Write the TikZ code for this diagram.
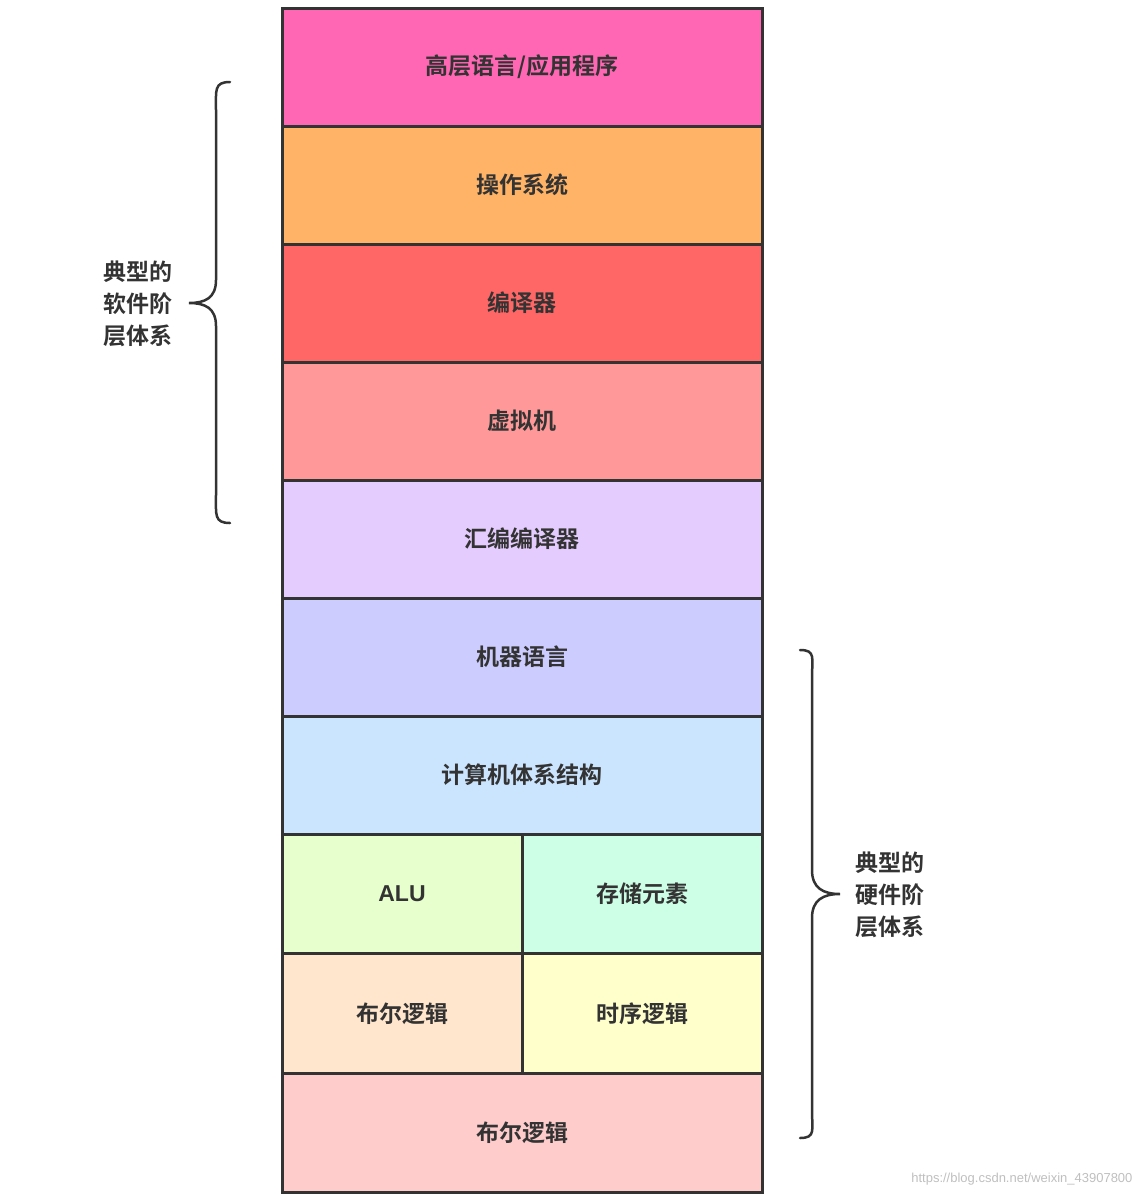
\documentclass[tikz,border=0pt]{standalone}
\usepackage{fontspec}
\newfontfamily\cjk{Noto Sans CJK SC Bold}
\newfontfamily\sans{Liberation Sans}
\begin{document}
\begin{tikzpicture}[x=1pt,y=-1pt,
  blk/.style={draw=black!80,line width=3pt},
  lbl/.style={font=\cjk\fontsize{23}{26}\selectfont,text=black!80},
  side/.style={font=\cjk\fontsize{23}{32}\selectfont,text=black!80,align=left},
  brc/.style={draw=black!80,line width=2.5pt,line cap=round}]
\useasboundingbox (0,0) rectangle (1143,1197);
\definecolor{c1}{HTML}{FF66B3}\definecolor{c2}{HTML}{FFB366}
\definecolor{c3}{HTML}{FF6666}\definecolor{c4}{HTML}{FF9999}
\definecolor{c5}{HTML}{E5CCFF}\definecolor{c6}{HTML}{CCCCFF}
\definecolor{c7}{HTML}{CCE5FF}\definecolor{c8}{HTML}{E6FFCC}
\definecolor{c9}{HTML}{CCFFE6}\definecolor{c10}{HTML}{FFE6CC}
\definecolor{c11}{HTML}{FFFFCC}\definecolor{c12}{HTML}{FFCCCC}
\foreach \ya/\yb/\c/\t [count=\i] in {8/126/c1/高层语言\slash 应用程序,126/244/c2/操作系统,244/362/c3/编译器,362/480/c4/虚拟机,480/598/c5/汇编编译器,598/716/c6/机器语言,716/834/c7/计算机体系结构,1073/1192/c12/布尔逻辑}{
  \filldraw[blk,fill=\c] (282,\ya) rectangle (762,\yb);
  \node[lbl] (r\i) at (522,{(\ya+\yb)/2}) {\t};
}
\filldraw[blk,fill=c8] (282,834) rectangle (522,953);
\node[lbl] (alu) at (402,894) {\sans\bfseries ALU};
\filldraw[blk,fill=c9] (522,834) rectangle (762,953);
\node[lbl] (mem) at (642,894) {存储元素};
\filldraw[blk,fill=c10] (282,953) rectangle (522,1073);
\node[lbl] (bool) at (402,1014) {布尔逻辑};
\filldraw[blk,fill=c11] (522,953) rectangle (762,1073);
\node[lbl] (seq) at (642,1014) {时序逻辑};
% left brace
\draw[brc] (230,82) .. controls (214,82) and (216,90) .. (216,110) -- (216,280)
  .. controls (216,298) and (205,303) .. (189,303)
  .. controls (205,303) and (216,308) .. (216,326) -- (216,495)
  .. controls (216,515) and (214,523) .. (230,523);
\node[side] (sw) at (138,304) {典型的\\软件阶\\层体系};
% right brace
\draw[brc] (800,650) .. controls (816,650) and (812,658) .. (812,678) -- (812,870)
  .. controls (812,888) and (823,894) .. (840,894)
  .. controls (823,894) and (812,900) .. (812,918) -- (812,1110)
  .. controls (812,1130) and (816,1138) .. (800,1138);
\node[side] (hw) at (890,895) {典型的\\硬件阶\\层体系};
\node[font=\sans\fontsize{13}{15}\selectfont,text=black!25,anchor=east] (wm) at (1136,1179) {https://blog.csdn.net/weixin\_43907800};
\end{tikzpicture}
\end{document}
